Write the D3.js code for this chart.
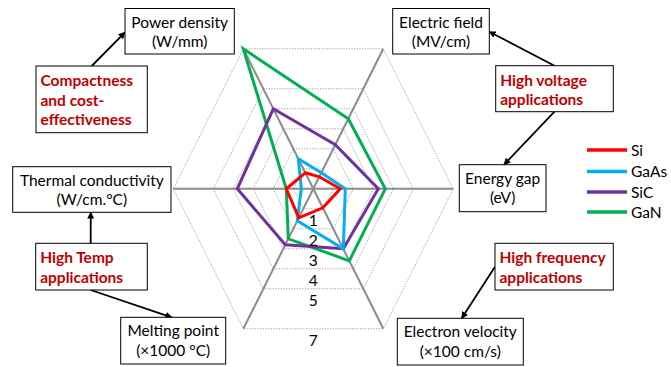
<!DOCTYPE html>
<html>
<head>
<meta charset="utf-8">
<script src="https://cdn.jsdelivr.net/npm/d3@7"></script>
<style>
  html, body { margin: 0; padding: 0; background: #fff; }
  svg { display: block; font-family: Lato, "Open Sans", sans-serif; }
</style>
</head>
<body>
<svg id="chart" width="671" height="367"></svg>
<script>
// ---------------- data ----------------
const axesNames = ["Power density", "Electric field", "Energy gap", "Electron velocity", "Melting point", "Thermal conductivity"];
const axisAngles = [120, 60, 0, -60, -120, 180]; // degrees, counter-clockwise from east
const seriesNames = ["Si", "GaAs", "SiC", "GaN"];
const siValues   = [0.8, 0.6, 1.35, 0.95, 1.45, 1.35];
const gaasValues = [1.5, 0.8, 1.6, 3.0, 1.6, 0.6];
const sicValues  = [4.0, 2.2, 3.25, 3.0, 2.8, 3.8];
const ganValues  = [7.0, 3.5, 3.6, 3.6, 2.5, 1.35];
const ringValues = [1, 2, 3, 4, 5, 7];
const ringLabels = ["1", "2", "3", "4", "5", "7"];
const seriesColors = ["#ff0000", "#00b0f0", "#7030a0", "#00b050"];

const seriesValues = [siValues, gaasValues, sicValues, ganValues];

// ---------------- layout ----------------
const svg = d3.select("#chart");
const cx = 313.3, cy = 188.8;
const vStretch = 2 / Math.sqrt(3);
const r = d3.scaleLinear().domain([0, 7]).range([0, 140]);

function pt(v, angDeg) {
  const a = angDeg * Math.PI / 180;
  return [cx + r(v) * Math.cos(a), cy - r(v) * Math.sin(a) * vStretch];
}
const lineGen = d3.line().curve(d3.curveLinearClosed);

// rings (dotted)
svg.append("g").selectAll("path").data(ringValues).join("path")
  .attr("d", v => lineGen(axisAngles.map(a => pt(v, a))))
  .attr("fill", "none")
  .attr("stroke", "#a6a6a6")
  .attr("stroke-width", 1)
  .attr("stroke-dasharray", "1.3,1.4");

// axis lines
svg.append("g").selectAll("line").data(axisAngles).join("line")
  .attr("x1", cx).attr("y1", cy)
  .attr("x2", a => pt(7, a)[0]).attr("y2", a => pt(7, a)[1])
  .attr("stroke", "#8c8c8c").attr("stroke-width", 2);

// series polygons (GaN first, Si on top)
const order = [3, 2, 1, 0];
svg.append("g").selectAll("path").data(order).join("path")
  .attr("d", i => lineGen(seriesValues[i].map((v, k) => pt(v, axisAngles[k]))))
  .attr("fill", "none")
  .attr("stroke", i => seriesColors[i])
  .attr("stroke-width", 3)
  .attr("stroke-linejoin", "miter");

// ring labels just below each ring's bottom edge
svg.append("g").selectAll("text").data(ringValues).join("text")
  .attr("x", cx)
  .attr("y", v => pt(v, -60)[1] + 17.5)
  .attr("text-anchor", "middle")
  .attr("font-size", 15.5)
  .attr("fill", "#000")
  .text((v, i) => ringLabels[i]);

// legend
const lg = svg.append("g");
const legendY = [150, 171.5, 192, 212];
seriesNames.forEach((n, i) => {
  lg.append("line").attr("x1", 587).attr("x2", 627)
    .attr("y1", legendY[i]).attr("y2", legendY[i])
    .attr("stroke", seriesColors[i]).attr("stroke-width", 3.5);
  lg.append("text").attr("x", 631).attr("y", legendY[i] + 5.5)
    .attr("font-size", 15.5).attr("fill", "#000").text(n);
});

// arrow marker
const defs = svg.append("defs");
defs.append("marker").attr("id", "arr")
  .attr("viewBox", "0 0 10 10").attr("refX", 9).attr("refY", 5)
  .attr("markerWidth", 7).attr("markerHeight", 7)
  .attr("markerUnits", "userSpaceOnUse")
  .attr("orient", "auto")
  .append("path").attr("d", "M0,0 L10,5 L0,10 Z").attr("fill", "#000");

// boxes
function box(x0, y0, x1, y1, lines, red) {
  const g = svg.append("g");
  g.append("rect").attr("x", x0).attr("y", y0).attr("width", x1 - x0).attr("height", y1 - y0)
    .attr("fill", "#fff").attr("stroke", "#000").attr("stroke-width", 1);
  lines.forEach((t, i) => {
    const tx = g.append("text")
      .attr("y", y0 + (red ? 20 : 19) + i * 19.5)
      .attr("font-size", red ? 15.5 : 15.5)
      .attr("font-weight", red ? "bold" : "normal")
      .attr("fill", red ? "#c00000" : "#000")
      .text(t);
    if (red) tx.attr("x", x0 + 4.5);
    else tx.attr("x", (x0 + x1) / 2).attr("text-anchor", "middle");
  });
}
function arrow(x1, y1, x2, y2) {
  svg.append("line").attr("x1", x1).attr("y1", y1).attr("x2", x2).attr("y2", y2)
    .attr("stroke", "#000").attr("stroke-width", 1.8).attr("marker-end", "url(#arr)");
}

arrow(91.7, 66, 125, 32.3);
arrow(554.5, 65.7, 489.3, 31.7);
arrow(554.5, 111.7, 504, 164.7);
arrow(90.7, 243.3, 90.7, 212.3);
arrow(90.7, 290, 171.7, 317.3);
arrow(495, 266.7, 461.7, 318.3);

box(125, 8.5, 234.3, 54, ["Power density", "(W/mm)"], false);
box(36, 66, 147.3, 132.7, ["Compactness", "and cost-", "effectiveness"], true);
box(392.7, 8.5, 489.3, 54, ["Electric field", "(MV/cm)"], false);
box(495.7, 65.7, 613.3, 111.7, ["High voltage", "applications"], true);
box(459.3, 164.7, 546, 211.7, ["Energy gap", "(eV)"], false);
box(12.7, 166.7, 171, 212.3, ["Thermal conductivity", "(W/cm.°C)"], false);
box(35.7, 243.3, 147.3, 290, ["High Temp", "applications"], true);
box(120.7, 317.3, 225.7, 364, ["Melting point", "(×1000 °C)"], false);
box(495, 243.3, 613.3, 290, ["High frequency", "applications"], true);
box(397.3, 318.3, 523.3, 365, ["Electron velocity", "(×100 cm/s)"], false);
</script>
</body>
</html>
